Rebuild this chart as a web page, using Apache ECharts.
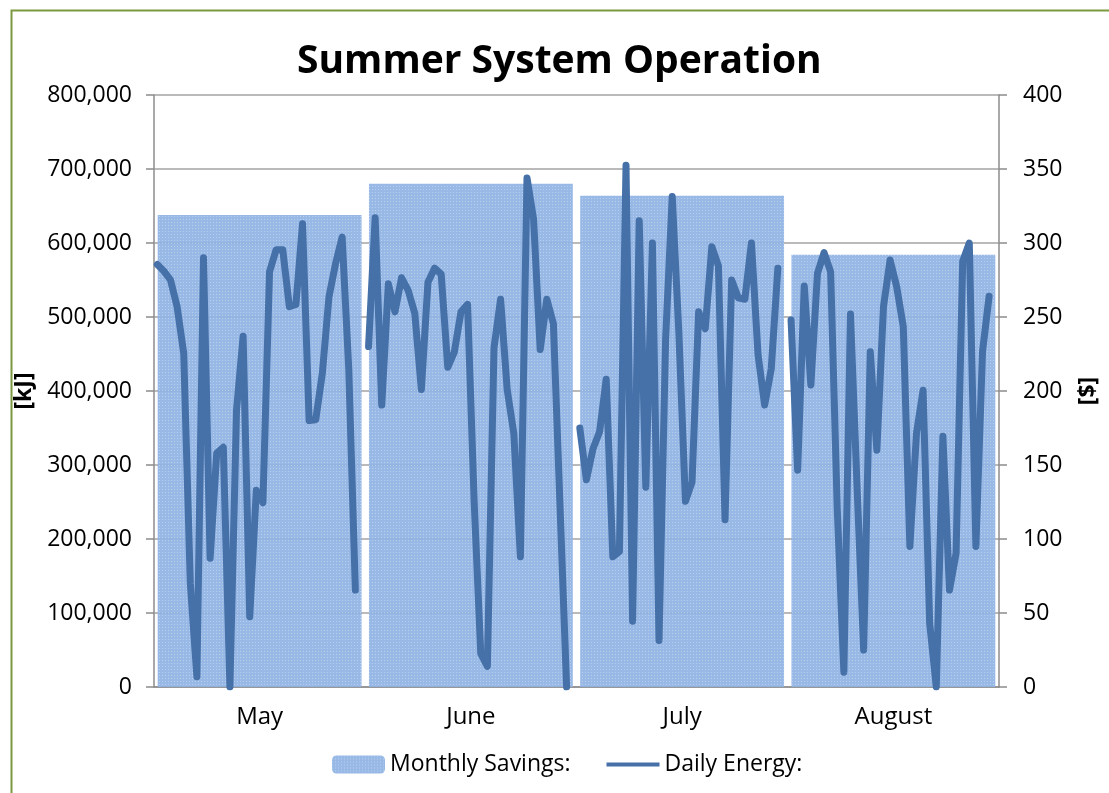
<!DOCTYPE html>
<html>
<head>
<meta charset="utf-8">
<title>Summer System Operation</title>
<script src="https://cdn.jsdelivr.net/npm/echarts@6/dist/echarts.min.js"></script>
<style>
  html, body { margin: 0; padding: 0; background: #fff; }
  #chart { width: 1109px; height: 793px; }
</style>
</head>
<body>
<div id="chart"></div>
<script>
// months on the main axis
var months = ['May', 'June', 'July', 'August'];

// monthly savings [$] (right axis)
var monthlySavings = [319, 340, 332, 292];

// daily energy [kJ], one list per month
var mayEnergy = [571000, 562000, 550000, 514000, 451000, 140000, 14000, 580000, 174000, 316000,
  324000, 0, 374000, 474000, 95000, 266000, 249000, 561000, 591000, 591000,
  514000, 517000, 626000, 360000, 361000, 424000, 527000, 572000, 608000, 430000, 131000];
var juneEnergy = [460000, 634000, 381000, 545000, 507000, 553000, 536000, 505000, 402000, 547000,
  566000, 558000, 432000, 453000, 507000, 517000, 250000, 45000, 28000, 458000,
  524000, 402000, 343000, 176000, 688000, 632000, 456000, 524000, 491000, 245000, 0];
var julyEnergy = [350000, 280000, 322000, 345000, 416000, 176000, 183000, 705000, 89000, 630000,
  270000, 600000, 63000, 470000, 663000, 480000, 251000, 277000, 507000, 484000,
  595000, 569000, 226000, 550000, 526000, 524000, 600000, 449000, 381000, 430000, 566000];
var augustEnergy = [496000, 293000, 542000, 408000, 559000, 587000, 561000, 240000, 20000, 504000,
  270000, 50000, 453000, 320000, 514000, 577000, 541000, 487000, 190000, 343000,
  401000, 86000, 0, 339000, 131000, 181000, 575000, 600000, 190000, 453000, 528000];

// axis ticks
var energyTicks = { min: 0, max: 800000, interval: 100000 };
var savingsTicks = { min: 0, max: 400, interval: 50 };

// one hidden day axis, a blank slot closes each month so the line breaks
var dayLabels = [];
var dailyEnergy = [];
[mayEnergy, juneEnergy, julyEnergy, augustEnergy].forEach(function (list, m) {
  list.forEach(function (v, d) {
    dayLabels.push(months[m] + ' ' + (d + 1));
    dailyEnergy.push(v);
  });
  dayLabels.push('');
  dailyEnergy.push(null);
});

var font = '"Open Sans", "DejaVu Sans", sans-serif';
var axisGrey = '#8c8c8c';
var lineBlue = '#4570a8';

var chart = echarts.init(document.getElementById('chart'));

var option = {
  backgroundColor: '#fff',
  animation: false,
  textStyle: { fontFamily: font, color: '#000' },
  title: {
    text: 'Summer System Operation',
    left: 297,
    top: 42,
    padding: 0,
    textStyle: { fontSize: 39, fontWeight: 'bold', color: '#000', fontFamily: font }
  },
  legend: {
    left: 327,
    top: 748,
    itemWidth: 53,
    itemHeight: 18,
    itemGap: 36,
    textStyle: { fontSize: 23, color: '#000', fontFamily: font },
    data: [
      { name: 'Monthly Savings:' },
      // flat bar icon: the tiny corner bits only widen the box so the bar stays thin
      { name: 'Daily Energy:', icon: 'path://M0,0L1,0L1,0.01Z M0,6H100V14H0Z M0,20L1,20L1,19.99Z' }
    ]
  },
  grid: { left: 154, right: 110, top: 95, bottom: 106 },
  xAxis: [
    {
      type: 'category',
      data: months,
      axisLine: { show: true, lineStyle: { color: axisGrey, width: 1.5 } },
      axisTick: { show: false },
      axisLabel: { fontSize: 24, color: '#000', margin: 18, fontFamily: font }
    },
    {
      type: 'category',
      data: dayLabels,
      show: false,
      boundaryGap: true
    }
  ],
  yAxis: [
    {
      type: 'value',
      min: energyTicks.min,
      max: energyTicks.max,
      interval: energyTicks.interval,
      name: '[kJ]',
      nameLocation: 'middle',
      nameRotate: 90,
      nameGap: 112,
      nameTextStyle: { fontSize: 23, fontWeight: 'bold', color: '#000', fontFamily: font },
      axisLine: { show: true, lineStyle: { color: axisGrey, width: 1.5 } },
      axisTick: { show: true, length: 8, inside: false, lineStyle: { color: axisGrey, width: 1.5 } },
      axisLabel: {
        fontSize: 23, color: '#000', margin: 22, fontFamily: font,
        formatter: function (v) { return v.toLocaleString('en-US'); }
      },
      splitLine: { show: true, lineStyle: { color: '#a3a3a3', width: 1.5 } }
    },
    {
      type: 'value',
      min: savingsTicks.min,
      max: savingsTicks.max,
      interval: savingsTicks.interval,
      name: '[$]',
      nameLocation: 'middle',
      nameRotate: 90,
      nameGap: 78,
      nameTextStyle: { fontSize: 23, fontWeight: 'bold', color: '#000', fontFamily: font },
      axisLine: { show: true, lineStyle: { color: axisGrey, width: 1.5 } },
      axisTick: { show: true, length: 8, inside: false, lineStyle: { color: axisGrey, width: 1.5 } },
      axisLabel: { fontSize: 23, color: '#000', margin: 24, fontFamily: font },
      splitLine: { show: false }
    }
  ],
  series: [
    {
      name: 'Monthly Savings:',
      type: 'bar',
      xAxisIndex: 0,
      yAxisIndex: 1,
      barCategoryGap: '3.5%',
      data: monthlySavings,
      itemStyle: {
        color: '#8fb3e4',
        opacity: 0.92,
        decal: {
          symbol: 'rect',
          symbolSize: 1,
          color: 'rgba(255,255,255,0.35)',
          dashArrayX: [1, 2],
          dashArrayY: [1, 2],
          rotation: 0
        }
      },
      z: 1
    },
    {
      name: 'Daily Energy:',
      type: 'line',
      xAxisIndex: 1,
      yAxisIndex: 0,
      data: dailyEnergy,
      connectNulls: false,
      symbol: 'none',
      showSymbol: false,
      lineStyle: { color: lineBlue, width: 7, join: 'round', cap: 'round' },
      itemStyle: { color: lineBlue },
      z: 3
    }
  ],
  graphic: [
    {
      type: 'rect',
      left: 9,
      top: 8,
      shape: { x: 0, y: 0, width: 1120, height: 810 },
      style: { fill: 'none', stroke: '#7a9a3e', lineWidth: 2 },
      silent: true,
      z: 100
    }
  ]
};

chart.setOption(option);
</script>
</body>
</html>
